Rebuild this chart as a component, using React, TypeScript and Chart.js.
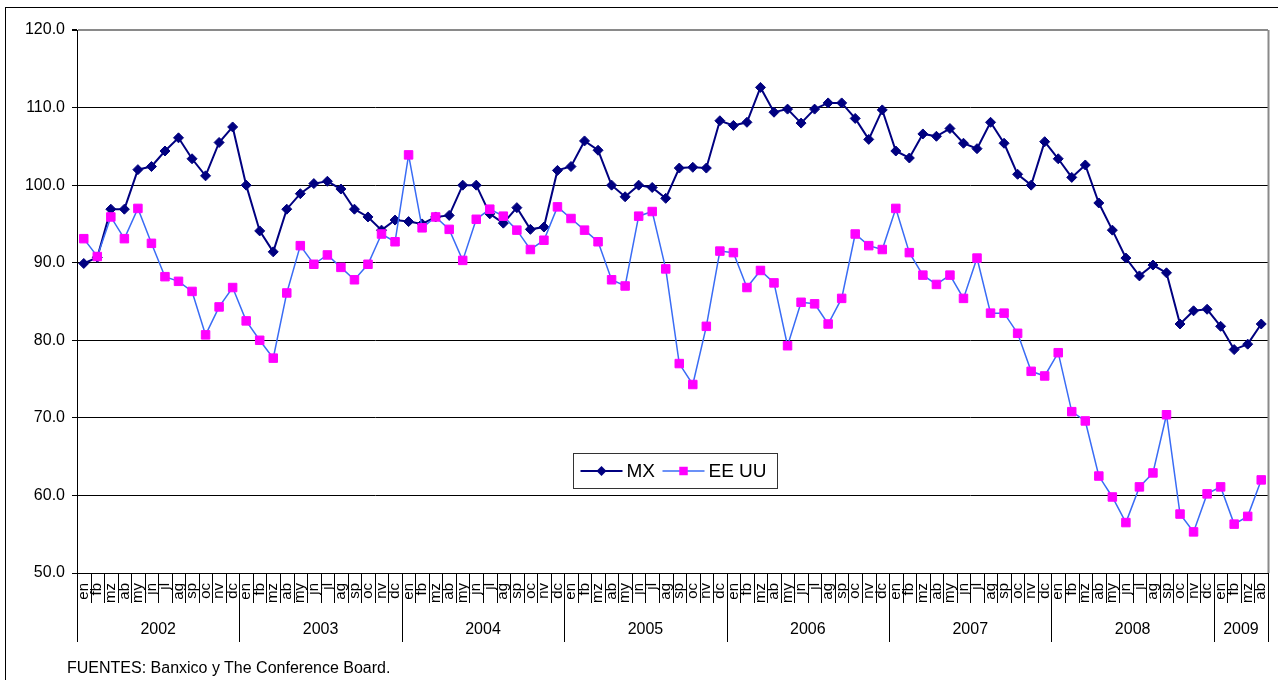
import React, { useEffect, useRef } from "react";
import { Chart, registerables } from "chart.js";

Chart.register(...registerables);

const months = ["en", "fb", "mz", "ab", "my", "jn", "jl", "ag", "sp", "oc", "nv", "dc"];
const years = ["2002", "2003", "2004", "2005", "2006", "2007", "2008", "2009"];
const monthsPerYear = [12, 12, 12, 12, 12, 12, 12, 4];

const mx = [
  89.9, 90.7, 96.9, 96.9, 102.0, 102.4, 104.4, 106.1, 103.4, 101.2, 105.5, 107.5,
  100.0, 94.1, 91.4, 96.9, 98.9, 100.2, 100.5, 99.5, 96.9, 95.9, 94.2, 95.5,
  95.3, 95.0, 95.9, 96.1, 100.0, 100.0, 96.3, 95.1, 97.1, 94.3, 94.6, 101.9,
  102.4, 105.7, 104.5, 100.0, 98.5, 100.0, 99.7, 98.3, 102.2, 102.3, 102.2, 108.3,
  107.7, 108.1, 112.6, 109.4, 109.8, 108.0, 109.8, 110.6, 110.6, 108.6, 105.9, 109.7,
  104.4, 103.5, 106.6, 106.3, 107.3, 105.4, 104.7, 108.1, 105.4, 101.4, 100.0, 105.6,
  103.4, 101.0, 102.6, 97.7, 94.2, 90.6, 88.3, 89.7, 88.7, 82.1, 83.8, 84.0,
  81.8, 78.8, 79.5, 82.1,
];

const eeuu = [
  93.1, 90.8, 95.9, 93.1, 97.0, 92.5, 88.2, 87.6, 86.3, 80.7, 84.3, 86.8,
  82.5, 80.0, 77.7, 86.1, 92.2, 89.8, 91.0, 89.4, 87.8, 89.8, 93.7, 92.7,
  103.9, 94.5, 95.9, 94.3, 90.3, 95.6, 96.9, 96.0, 94.2, 91.7, 92.9, 97.2,
  95.7, 94.2, 92.7, 87.8, 87.0, 96.0, 96.6, 89.2, 77.0, 74.3, 81.8, 91.5,
  91.3, 86.8, 89.0, 87.4, 79.3, 84.9, 84.7, 82.1, 85.4, 93.7, 92.2, 91.7,
  97.0, 91.3, 88.4, 87.2, 88.4, 85.4, 90.6, 83.5, 83.5, 80.9, 76.0, 75.4,
  78.4, 70.8, 69.6, 62.5, 59.8, 56.5, 61.1, 62.9, 70.4, 57.6, 55.3, 60.2,
  61.1, 56.3, 57.3, 62.0,
];

const seriesNames = ["MX", "EE UU"];
const yMin = 50;
const yMax = 120;
const yStep = 10;
const footnote = "FUENTES: Banxico y The Conference Board.";

const FONT = "'Liberation Sans', Arial, Helvetica, sans-serif";

const labels: string[] = years.flatMap((_, i) => months.slice(0, monthsPerYear[i]));

const decorPlugin = {
  id: "decor",
  afterDraw(chart: any) {
    const { ctx, chartArea, scales } = chart;
    const x = scales.x;
    const b = chartArea.bottom;
    const n = labels.length;
    ctx.save();
    ctx.strokeStyle = "#000";
    ctx.lineWidth = 1;
    // month separators
    for (let k = 0; k <= n; k++) {
      const px = Math.round(x.getPixelForValue(k - 0.5)) + 0.5;
      ctx.beginPath();
      ctx.moveTo(px, b);
      ctx.lineTo(px, b + 30);
      ctx.stroke();
    }
    // year separators and labels
    ctx.fillStyle = "#000";
    ctx.font = `16px ${FONT}`;
    ctx.textAlign = "center";
    ctx.textBaseline = "middle";
    const bounds = [0];
    monthsPerYear.forEach((m) => bounds.push(bounds[bounds.length - 1] + m));
    bounds.forEach((k) => {
      const px = Math.round(x.getPixelForValue(k - 0.5)) + 0.5;
      ctx.beginPath();
      ctx.moveTo(px, b);
      ctx.lineTo(px, b + 69);
      ctx.stroke();
    });
    years.forEach((yr, i) => {
      const s = bounds[i];
      const e = bounds[i + 1];
      const cx = x.getPixelForValue((s + e) / 2 - 0.5);
      ctx.fillText(yr, cx, b + 57);
    });
    // right border of plot area
    ctx.strokeStyle = "#8a8a8a";
    ctx.lineWidth = 2;
    ctx.beginPath();
    ctx.moveTo(chartArea.right + 0.5, chartArea.top);
    ctx.lineTo(chartArea.right + 0.5, b);
    ctx.stroke();

    // legend
    const w = chartArea.right - chartArea.left;
    const h = chartArea.bottom - chartArea.top;
    const lx = Math.round(chartArea.left + 0.4162 * w) + 0.5;
    const ly = Math.round(chartArea.top + 0.779 * h) + 0.5;
    const lw = 204;
    const lh = 35;
    ctx.fillStyle = "#fff";
    ctx.fillRect(lx, ly, lw, lh);
    ctx.strokeStyle = "#333";
    ctx.lineWidth = 1;
    ctx.strokeRect(lx, ly, lw, lh);
    const cy = ly + lh / 2;
    const ds = chart.data.datasets;
    const items = [
      { d: ds[0], x0: lx + 7, text: seriesNames[0] },
      { d: ds[1], x0: lx + 89, text: seriesNames[1] },
    ];
    items.forEach((it) => {
      ctx.strokeStyle = it.d.borderColor;
      ctx.lineWidth = it.d.borderWidth;
      ctx.beginPath();
      ctx.moveTo(it.x0, cy);
      ctx.lineTo(it.x0 + 42, cy);
      ctx.stroke();
      ctx.fillStyle = it.d.pointBackgroundColor;
      ctx.beginPath();
      if (it.d.pointStyle === "rectRot") {
        const r = it.d.pointRadius;
        const mx0 = it.x0 + 21;
        ctx.moveTo(mx0, cy - r);
        ctx.lineTo(mx0 + r, cy);
        ctx.lineTo(mx0, cy + r);
        ctx.lineTo(mx0 - r, cy);
        ctx.closePath();
      } else {
        const s = it.d.pointRadius * Math.SQRT1_2;
        ctx.rect(it.x0 + 21 - s, cy - s, 2 * s, 2 * s);
      }
      ctx.fill();
      ctx.fillStyle = "#000";
      ctx.font = `19px ${FONT}`;
      ctx.textAlign = "left";
      ctx.textBaseline = "middle";
      ctx.fillText(it.text, it.x0 + 46, cy + 1);
    });
    ctx.restore();
  },
};

export default function App() {
  const canvasRef = useRef<HTMLCanvasElement | null>(null);

  useEffect(() => {
    document.body.style.margin = "0";
    const canvas = canvasRef.current;
    if (!canvas) return;
    const chart = new Chart(canvas, {
      type: "line",
      data: {
        labels,
        datasets: [
          {
            label: seriesNames[0],
            data: mx,
            borderColor: "#000080",
            backgroundColor: "#000080",
            borderWidth: 2,
            pointStyle: "rectRot",
            pointRadius: 5,
            pointBackgroundColor: "#000080",
            pointBorderColor: "#000080",
            pointBorderWidth: 1,
            tension: 0,
            order: 1,
            clip: false,
          },
          {
            label: seriesNames[1],
            data: eeuu,
            borderColor: "#3a6cf5",
            backgroundColor: "#ff00ff",
            borderWidth: 1.5,
            pointStyle: "rect",
            pointRadius: 6,
            pointBackgroundColor: "#ff00ff",
            pointBorderColor: "#ff00ff",
            pointBorderWidth: 1,
            tension: 0,
            order: 0,
            clip: false,
          },
        ] as any,
      },
      options: {
        animation: false,
        responsive: false,
        maintainAspectRatio: false,
        layout: { padding: { left: 0, right: 10, top: 30, bottom: 0 } },
        plugins: {
          legend: { display: false },
          tooltip: { enabled: false },
        },
        scales: {
          x: {
            type: "category",
            offset: true,
            grid: { display: true, drawOnChartArea: false, drawTicks: false },
            border: { display: true, color: "#000", width: 1 },
            ticks: {
              autoSkip: false,
              minRotation: 90,
              maxRotation: 90,
              padding: 10,
              color: "#000",
              font: { family: FONT, size: 15 },
            },
            afterFit: (s: any) => {
              s.height = 107;
              s.paddingLeft = 0;
              s.paddingRight = 0;
            },
          },
          y: {
            min: yMin,
            max: yMax,
            ticks: {
              stepSize: yStep,
              color: "#000",
              padding: 7,
              font: { family: FONT, size: 16 },
              callback: (v: any) => Number(v).toFixed(1),
            },
            grid: {
              color: (c: any) => (c.tick && c.tick.value === yMax ? "#8a8a8a" : "#000"),
              lineWidth: (c: any) => (c.tick && c.tick.value === yMax ? 2 : 1),
              drawTicks: true,
              tickLength: 5,
              tickColor: "#000",
            },
            border: { display: true, color: "#000", width: 1 },
            afterFit: (s: any) => {
              s.width = 77;
            },
          },
        },
      },
      plugins: [decorPlugin],
    });
    return () => chart.destroy();
  }, []);

  return (
    <div style={{ position: "relative", width: 1278, height: 680, overflow: "hidden", background: "#fff" }}>
      <canvas ref={canvasRef} width={1278} height={680} style={{ display: "block", width: 1278, height: 680 }} />
      <div
        style={{
          position: "absolute",
          left: 5,
          top: 7,
          width: 1273,
          height: 673,
          borderLeft: "1px solid #000",
          borderTop: "1px solid #000",
          boxSizing: "border-box",
          pointerEvents: "none",
        }}
      />
      <div
        style={{
          position: "absolute",
          left: 67,
          top: 658,
          fontFamily: FONT,
          fontSize: 16,
          lineHeight: "20px",
          color: "#000",
          whiteSpace: "nowrap",
        }}
      >
        {footnote}
      </div>
    </div>
  );
}
